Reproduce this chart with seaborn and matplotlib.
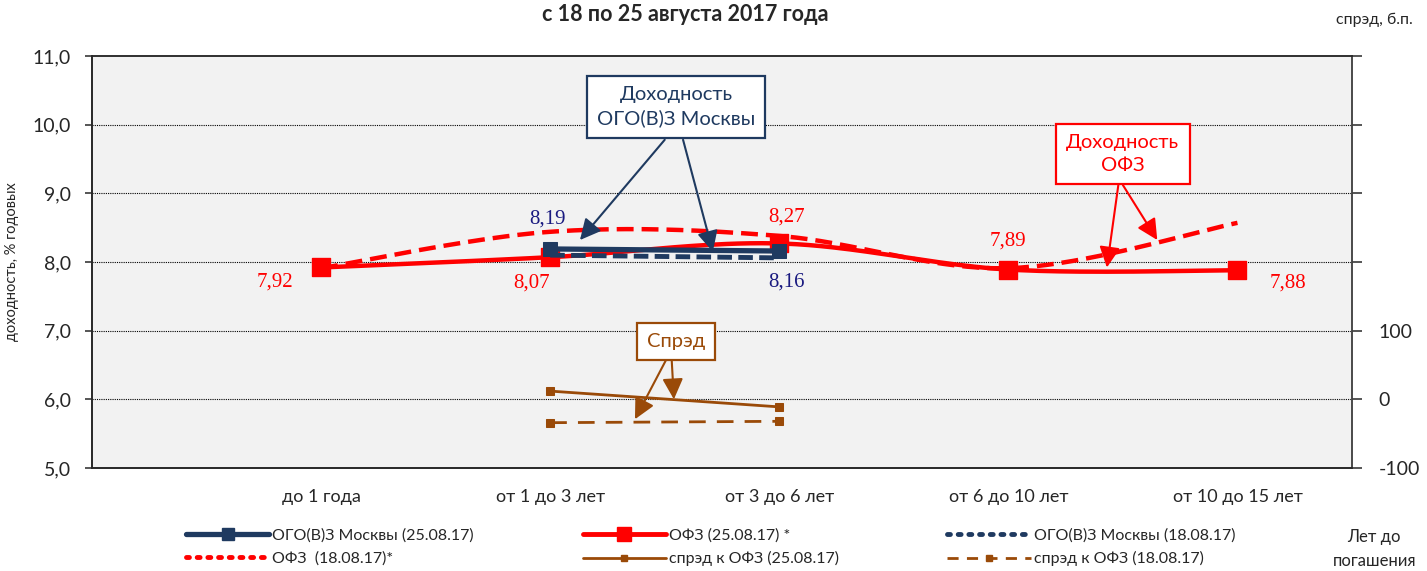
import numpy as np
import pandas as pd
import seaborn as sns
import matplotlib.pyplot as plt
from matplotlib.patches import FancyArrowPatch
from matplotlib.lines import Line2D

# Data
cats = ['до 1 года', 'от 1 до 3 лет', 'от 3 до 6 лет', 'от 6 до 10 лет', 'от 10 до 15 лет']
ofz_25 = [7.92, 8.07, 8.27, 7.89, 7.88]
ofz_18 = [7.91, 8.44, 8.38, 7.91, 8.57]
mos_cats = ['от 1 до 3 лет', 'от 3 до 6 лет']
mos_25 = [8.19, 8.16]
mos_18 = [8.10, 8.06]
spread_25 = [12, -11]
spread_18 = [-34, -32]

NAVY = '#1F3A60'
RED = '#FF0000'
BROWN = '#9A4A08'
LBL_BLUE = '#1A1A80'

sns.set_theme(style='white')
plt.rcParams['font.family'] = ['Lato', 'DejaVu Sans']


def smooth(xs, ys, n=40):
    # Excel-like smoothed line (Catmull-Rom as cubic Bezier)
    p = np.column_stack([xs, ys]).astype(float)
    p = np.vstack([p[0], p, p[-1]])
    out = []
    for i in range(1, len(p) - 2):
        p0, p1, p2, p3 = p[i - 1], p[i], p[i + 1], p[i + 2]
        c1 = p1 + (p2 - p0) / 6
        c2 = p2 - (p3 - p1) / 6
        t = np.linspace(0, 1, n)[:, None]
        seg = (1 - t) ** 3 * p1 + 3 * (1 - t) ** 2 * t * c1 + 3 * (1 - t) * t ** 2 * c2 + t ** 3 * p2
        out.append(seg if i == 1 else seg[1:])
    out = np.vstack(out)
    return out[:, 0], out[:, 1]


x_all = np.arange(len(cats))
x_mos = np.array([cats.index(c) for c in mos_cats])

fig = plt.figure(figsize=(14.27, 5.71), dpi=100)
ax = fig.add_axes([92 / 1427, 1 - 468 / 571, 1260 / 1427, 412 / 571])
ax.set_facecolor('#F2F2F2')

# OFZ smoothed lines
sx, sy = smooth(x_all, ofz_18)
sns.lineplot(x=sx, y=sy, ax=ax, color=RED, lw=3.2, sort=False,
             linestyle=(0, (3.8, 1.8)), zorder=3)
sx, sy = smooth(x_all, ofz_25)
sns.lineplot(x=sx, y=sy, ax=ax, color=RED, lw=3.2, sort=False, zorder=4)
sns.scatterplot(x=x_all, y=ofz_25, ax=ax, color=RED, marker='s', s=150,
                edgecolor=RED, zorder=5)

# Moscow
sns.lineplot(x=x_mos, y=mos_18, ax=ax, color=NAVY, lw=3.5, linestyle=(0, (3, 1.3)), zorder=6)
sns.lineplot(x=x_mos, y=mos_25, ax=ax, color=NAVY, lw=3.8, marker='s', ms=10,
             mec=NAVY, zorder=7)

ax.set_xlim(-1, 4.5)
ax.set_ylim(5, 11)
ax.set_yticks(np.arange(5, 11.1, 1))
ax.set_yticklabels([f'{v:.1f}'.replace('.', ',') for v in np.arange(5, 11.1, 1)], fontsize=14)
ax.set_xticks(x_all)
ax.set_xticklabels(cats, fontsize=13)
ax.tick_params(axis='x', length=0, pad=15)
ax.tick_params(axis='y', length=5, direction='out', color='#404040', pad=10)
for v in range(6, 11):
    ax.axhline(v, color='black', lw=0.8, ls=(0, (1, 1)), zorder=1)
for s in ax.spines.values():
    s.set_color('#808080')
    s.set_linewidth(1.2)
ax.spines['left'].set_color('#404040')
ax.spines['bottom'].set_color('#404040')
ax.set_ylabel('доходность, % годовых', fontsize=10.5, labelpad=10)
ax.set_xlabel('')

# Spread on right axis
ax2 = ax.twinx()
sns.lineplot(x=x_mos, y=spread_25, ax=ax2, color=BROWN, lw=2, marker='s', ms=6, mec=BROWN, zorder=5)
sns.lineplot(x=x_mos, y=spread_18, ax=ax2, color=BROWN, lw=2, marker='s', ms=6, mec=BROWN,
             linestyle=(0, (6, 4)), zorder=5)
ax2.set_ylim(-100, 500)
ax2.set_yticks(range(-100, 501, 100))
ax2.set_yticklabels(['-100', '0', '100', '', '', '', ''], fontsize=14)
ax2.tick_params(axis='y', length=7, direction='out', color='#404040', pad=12)
ax2.spines['right'].set_color('#404040')
ax2.spines['right'].set_linewidth(1.2)
ax2.set_xlim(-1, 4.5)

# Data labels
lbl = dict(fontsize=15, family='Liberation Serif', ha='center', va='center')
ax.text(-0.2, 7.71, '7,92', color=RED, **lbl)
ax.text(0.92, 7.70, '8,07', color=RED, **lbl)
ax.text(2.03, 8.66, '8,27', color=RED, **lbl)
ax.text(3.0, 8.31, '7,89', color=RED, **lbl)
ax.text(4.22, 7.70, '7,88', color=RED, **lbl)
ax.text(0.99, 8.63, '8,19', color=LBL_BLUE, **lbl)
ax.text(2.03, 7.71, '8,16', color=LBL_BLUE, **lbl)


# Callouts
def callout(text, xy, color, tcolor, targets, fs):
    ax.text(xy[0], xy[1], text, ha='center', va='center',
            fontsize=fs, color=tcolor, linespacing=1.45, zorder=10,
            bbox=dict(boxstyle='square,pad=0.5', fc='white', ec=color, lw=1.6))
    for (sx_, sy_), (tx, ty) in targets:
        ax.add_patch(FancyArrowPatch((sx_, sy_), (tx, ty),
                                     arrowstyle='-|>,head_length=0.9,head_width=0.45',
                                     mutation_scale=14, color=color, lw=1.5, zorder=9,
                                     shrinkA=0, shrinkB=0))


callout('Доходность\nОГО(В)З Москвы', (1.55, 10.26), NAVY, NAVY,
        [((1.50, 9.78), (1.13, 8.32)), ((1.58, 9.78), (1.71, 8.15))], 14.5)
callout('Доходность\nОФЗ', (3.50, 9.57), RED, RED,
        [((3.48, 9.12), (3.43, 7.92)), ((3.50, 9.12), (3.65, 8.32))], 14.5)
callout('Спрэд', (1.55, 6.84), BROWN, BROWN,
        [((1.51, 6.60), (1.37, 5.71)), ((1.53, 6.60), (1.54, 6.0))], 14.5)

# Titles and side texts
fig.text(0.48, 0.975, 'с 18 по 25 августа 2017 года', ha='center', va='center',
         fontsize=15.5, fontweight='bold')
fig.text(0.99, 0.965, 'спрэд, б.п.', ha='right', va='center', fontsize=11.5)
fig.text(0.963, 0.038, 'Лет до\nпогашения', ha='center', va='center', fontsize=12, linespacing=1.6)

# Legend
h = [
    Line2D([], [], color=NAVY, lw=3.8, marker='s', ms=9),
    Line2D([], [], color=RED, lw=3.5, marker='s', ms=10),
    Line2D([], [], color=NAVY, lw=3.5, ls=(0, (0.6, 1.6)), dash_capstyle='round'),
    Line2D([], [], color=RED, lw=3.5, ls=(0, (0.6, 1.6)), dash_capstyle='round'),
    Line2D([], [], color=BROWN, lw=2, marker='s', ms=5),
    Line2D([], [], color=BROWN, lw=2, marker='s', ms=5, ls=(0, (4, 3))),
]
labels = ['ОГО(В)З Москвы (25.08.17)', 'ОФЗ (25.08.17) *', 'ОГО(В)З Москвы (18.08.17)',
          'ОФЗ  (18.08.17)*', 'спрэд к ОФЗ (25.08.17)', 'спрэд к ОФЗ (18.08.17)']
order = [0, 3, 1, 4, 2, 5]
fig.legend([h[i] for i in order], [labels[i] for i in order], ncol=3, loc='upper center',
           bbox_to_anchor=(0.498, 0.088), frameon=False, fontsize=11.5, handlelength=5.2,
           handletextpad=0.2, columnspacing=6.8, labelspacing=0.5, borderpad=0)

fig.savefig('out.png', dpi=100)
